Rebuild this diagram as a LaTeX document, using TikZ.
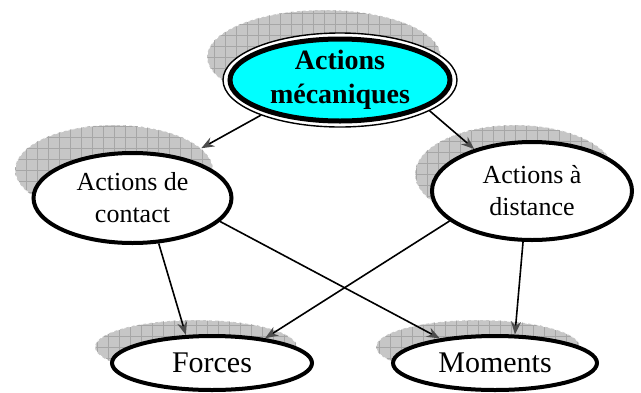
\documentclass[tikz,border=0pt]{standalone}
\usepackage{fontspec}
\setmainfont{Liberation Serif}
\usetikzlibrary{arrows.meta,shapes.geometric}
\definecolor{aqua}{RGB}{0,255,255}

\begin{document}
\begin{tikzpicture}[x=1pt, y=-1pt, >={Stealth[length=13pt,width=10pt,color=black!70]},
	hatch/.style={ellipse, fill=gray!45, draw=white, dashed, line width=0.8pt,
		path picture={\draw[solid, gray!70, line width=0.4pt, step=11pt] (path picture bounding box.south west) grid (path picture bounding box.north east);}},
	bubble/.style={ellipse, draw, fill=white, line width=4pt, inner sep=2pt, align=center, font=\fontsize{26}{32}\selectfont},
	leaf/.style={ellipse, draw, fill=white, line width=4pt, inner sep=2pt, font=\fontsize{30}{36}\selectfont},
	link/.style={->, line width=1.6pt}]
	\useasboundingbox (0,0) rectangle (641,392);
	% hatched shadows behind the ellipses
	\node[hatch, minimum width=234pt, minimum height=94pt] (mec-sh) at (324,57) {};
	\node[hatch, minimum width=198pt, minimum height=90pt] (contact-sh) at (114,170) {};
	\node[hatch, minimum width=200pt, minimum height=98pt] (distance-sh) at (515,174) {};
	\node[hatch, minimum width=202pt, minimum height=54pt] (forces-sh) at (196,347) {};
	\node[hatch, minimum width=204pt, minimum height=54pt] (moments-sh) at (478,347) {};
	% top ellipse with thin outer ring
	\node[ellipse, draw, fill=white, line width=1.4pt, minimum width=234pt, minimum height=94pt] (mec-out) at (340,80) {};
	\node[ellipse, draw, fill=aqua, line width=5pt, minimum width=220pt, minimum height=82pt, inner xsep=2pt, inner ysep=-6pt, align=center, font=\fontsize{28}{34}\selectfont\bfseries] (mec) at (340,80) {Actions\\mécaniques};
	% second row
	\node[bubble, minimum width=198pt, minimum height=90pt] (contact) at (132.5,198) {Actions de\\contact};
	\node[bubble, minimum width=200pt, minimum height=98pt] (distance) at (532,191) {Actions à\\distance};
	% bottom row
	\node[leaf, minimum width=200pt, minimum height=54pt] (forces) at (212,363) {Forces};
	\node[leaf, minimum width=204pt, minimum height=54pt] (moments) at (495,363) {Moments};
	% arrows
	\draw[link] (mec-out.204) -- (contact-sh.14);
	\draw[link] (mec-out.341) -- (distance.144);
	\draw[link] (contact.300) -- (forces.133);
	\draw[link] (contact.345) -- (moments.156);
	\draw[link] (distance.200) -- (forces.25);
	\draw[link] (distance.260) -- (moments.55);
\end{tikzpicture}
\end{document}
